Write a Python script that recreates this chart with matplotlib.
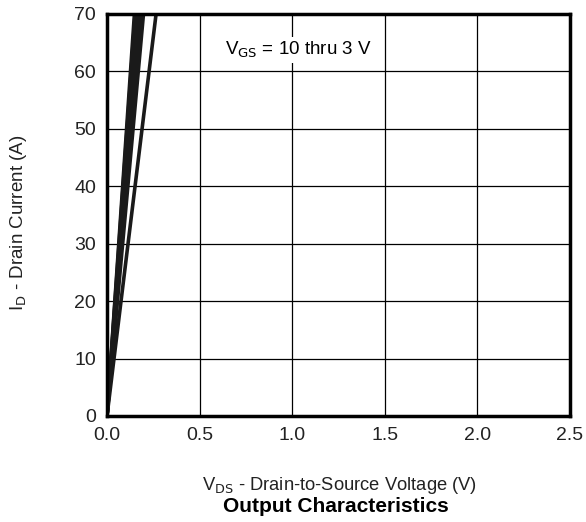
import matplotlib
matplotlib.use('Agg')
import matplotlib.pyplot as plt

# VGS curves (10 thru 3 V): VDS reached at ID = 70 A
vgs = [10, 9, 8, 7, 6, 5, 4, 3]
vds_at_top = [0.148, 0.152, 0.158, 0.165, 0.172, 0.185, 0.197, 0.265]
id_top = 70

x_ticks = [0.0, 0.5, 1.0, 1.5, 2.0, 2.5]
x_ticklabels = ['0.0', '0.5', '1.0', '1.5', '2.0', '2.5']
y_ticks = [0, 10, 20, 30, 40, 50, 60, 70]

plt.rcParams['font.family'] = ['Liberation Sans', 'DejaVu Sans']

fig = plt.figure(figsize=(5.86, 5.22), dpi=100)
ax = fig.add_axes([107/586, 1 - 416/522, 463/586, 402/522])

for v in vds_at_top:
    ax.plot([0, v], [0, id_top], color='#1a1a1a', lw=2.6, solid_capstyle='butt', zorder=3)

ax.set_xlim(0, 2.5)
ax.set_ylim(0, 70)
ax.set_xticks(x_ticks)
ax.set_xticklabels(x_ticklabels)
ax.set_yticks(y_ticks)
ax.tick_params(length=0, labelsize=14, pad=8, labelcolor='#222222')
ax.grid(color='black', lw=0.9)
for s in ax.spines.values():
    s.set_linewidth(2.5)
    s.set_zorder(4)

ax.text(0.637, 63.7, r'V$_{\mathrm{GS}}$ = 10 thru 3 V', fontsize=13.5,
        ha='left', va='center',
        bbox=dict(facecolor='white', edgecolor='none', pad=2), zorder=5)

fig.text(340/586, 1 - 485/522, r'V$_{\mathrm{DS}}$ - Drain-to-Source Voltage (V)',
         fontsize=13.2, ha='center', va='center', color='#222222')
fig.text(336/586, 1 - 506/522, 'Output Characteristics', fontsize=15,
         fontweight='bold', ha='center', va='center')
fig.text(19/586, 1 - 223/522, r'I$_{\mathrm{D}}$ - Drain Current (A)',
         fontsize=13.5, ha='center', va='center', rotation=90, color='#222222')

fig.savefig('out.png', dpi=100)
